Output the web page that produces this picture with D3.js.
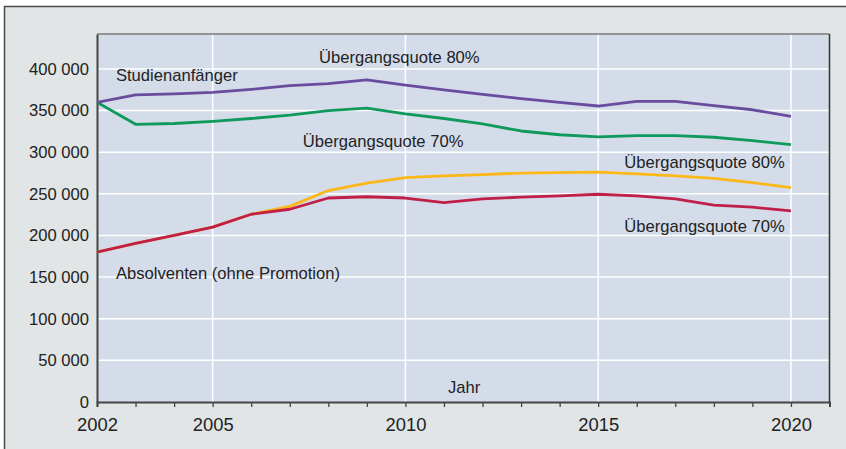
<!DOCTYPE html>
<html>
<head>
<meta charset="utf-8">
<script src="https://cdn.jsdelivr.net/npm/d3@7"></script>
<style>
  body { margin: 0; background: #fff; }
  svg { display: block; font-family: "Liberation Sans", Arial, sans-serif; }
</style>
</head>
<body>
<svg width="846" height="449"></svg>
<script>
// data
const years = [2002, 2003, 2004, 2005, 2006, 2007, 2008, 2009, 2010, 2011,
               2012, 2013, 2014, 2015, 2016, 2017, 2018, 2019, 2020];
const anfaenger80 = [360000, 369000, 370000, 372000, 375500, 380000, 382500, 387000, 380500, 375000,
                     369500, 364500, 360000, 355500, 361000, 361000, 356000, 351000, 343000];
const anfaenger70 = [360000, 333500, 334500, 337000, 340500, 344500, 350000, 353000, 346000, 340500,
                     334000, 325500, 321000, 318500, 320000, 320000, 318000, 314000, 309000];
const absolventen80 = [180000, 190500, 200000, 210000, 225500, 235000, 254000, 263000, 269500, 271500,
                       273000, 275000, 275500, 276000, 274000, 271500, 268500, 263500, 257500];
const absolventen70 = [180000, 190500, 200000, 210000, 225500, 231500, 245000, 246500, 245000, 239500,
                       244000, 246000, 247500, 249500, 247500, 244000, 236500, 234000, 229500];
const yTicks = [0, 50000, 100000, 150000, 200000, 250000, 300000, 350000, 400000];
const xLabelYears = [2002, 2005, 2010, 2015, 2020];

const svg = d3.select("svg");

// outer frame
svg.append("rect")
  .attr("x", 4.5).attr("y", 6.5)
  .attr("width", 900).attr("height", 500)
  .attr("fill", "#e1e5e6")
  .attr("stroke", "#4a4a4a")
  .attr("stroke-width", 1.5);

const pLeft = 97, pRight = 829.5, pTop = 34, pBottom = 402;
const xs = d3.scaleLinear().domain([2002, 2021]).range([pLeft, pRight]);
const ys = d3.scaleLinear().domain([0, 442000]).range([pBottom, pTop]);

// plot background
svg.append("rect")
  .attr("x", pLeft).attr("y", pTop)
  .attr("width", pRight - pLeft).attr("height", pBottom - pTop)
  .attr("fill", "#d4dcea");

// grid
svg.append("g").selectAll("line")
  .data(yTicks.filter(d => d > 0))
  .join("line")
  .attr("x1", pLeft).attr("x2", pRight)
  .attr("y1", d => ys(d)).attr("y2", d => ys(d))
  .attr("stroke", "#fff").attr("stroke-width", 1.5);

svg.append("g").selectAll("line")
  .data(xLabelYears.filter(d => d > 2002))
  .join("line")
  .attr("x1", d => xs(d)).attr("x2", d => xs(d))
  .attr("y1", pTop).attr("y2", pBottom)
  .attr("stroke", "#fff").attr("stroke-width", 1.5);

// frame of the plot
svg.append("line")
  .attr("x1", pLeft).attr("x2", pRight).attr("y1", pTop).attr("y2", pTop)
  .attr("stroke", "#7a7a7a").attr("stroke-width", 1.5);
svg.append("line")
  .attr("x1", pRight).attr("x2", pRight).attr("y1", pTop).attr("y2", pBottom)
  .attr("stroke", "#333").attr("stroke-width", 1.5);

// axes
const fmt = d3.formatLocale({ decimal: ",", thousands: " ", grouping: [3], currency: ["", "€"] }).format(",");

const yAxis = svg.append("g")
  .attr("transform", `translate(${pLeft},0)`)
  .call(d3.axisLeft(ys).tickValues(yTicks).tickSize(0).tickPadding(8).tickFormat(fmt));
yAxis.select(".domain").attr("stroke", "#444").attr("stroke-width", 2);
yAxis.selectAll("text")
  .attr("font-size", "16.6px")
  .attr("font-family", "Liberation Sans, Arial, sans-serif")
  .attr("fill", "#222");

const xAxis = svg.append("g")
  .attr("transform", `translate(0,${pBottom})`)
  .call(d3.axisBottom(xs).tickValues(years.concat([2021])).tickSize(5).tickPadding(11)
    .tickFormat(d => xLabelYears.includes(d) ? d : ""));
xAxis.select(".domain").attr("stroke", "#444").attr("stroke-width", 2);
xAxis.selectAll(".tick line").attr("stroke", "#444").attr("stroke-width", 1.3);
xAxis.selectAll("text")
  .attr("font-size", "18.4px")
  .attr("font-family", "Liberation Sans, Arial, sans-serif")
  .attr("fill", "#222");

// lines
const line = d3.line()
  .x((d, i) => xs(years[i]))
  .y(d => ys(d));

const series = [
  { values: absolventen80, color: "#fbb817" },
  { values: absolventen70, color: "#c01f48" },
  { values: anfaenger70, color: "#0f9a5c" },
  { values: anfaenger80, color: "#6a4c9f" }
];

svg.append("g").selectAll("path")
  .data(series)
  .join("path")
  .attr("fill", "none")
  .attr("stroke", d => d.color)
  .attr("stroke-width", 2.8)
  .attr("stroke-linejoin", "round")
  .attr("d", d => line(d.values));

// annotations
const labels = [
  { text: "Studienanfänger", year: 2002.49, value: 392800, anchor: "start" },
  { text: "Übergangsquote 80%", year: 2007.76, value: 414400, anchor: "start" },
  { text: "Übergangsquote 70%", year: 2007.34, value: 313500, anchor: "start" },
  { text: "Übergangsquote 80%", year: 2019.84, value: 288300, anchor: "end" },
  { text: "Übergangsquote 70%", year: 2019.84, value: 211400, anchor: "end" },
  { text: "Absolventen (ohne Promotion)", year: 2002.49, value: 155300, anchor: "start" },
  { text: "Jahr", year: 2011.52, value: 18000, anchor: "middle" }
];

svg.append("g").selectAll("text")
  .data(labels)
  .join("text")
  .attr("x", d => xs(d.year))
  .attr("y", d => ys(d.value))
  .attr("dy", "0.36em")
  .attr("text-anchor", d => d.anchor)
  .attr("font-size", "16.6px")
  .attr("fill", "#222")
  .text(d => d.text);
</script>
</body>
</html>
